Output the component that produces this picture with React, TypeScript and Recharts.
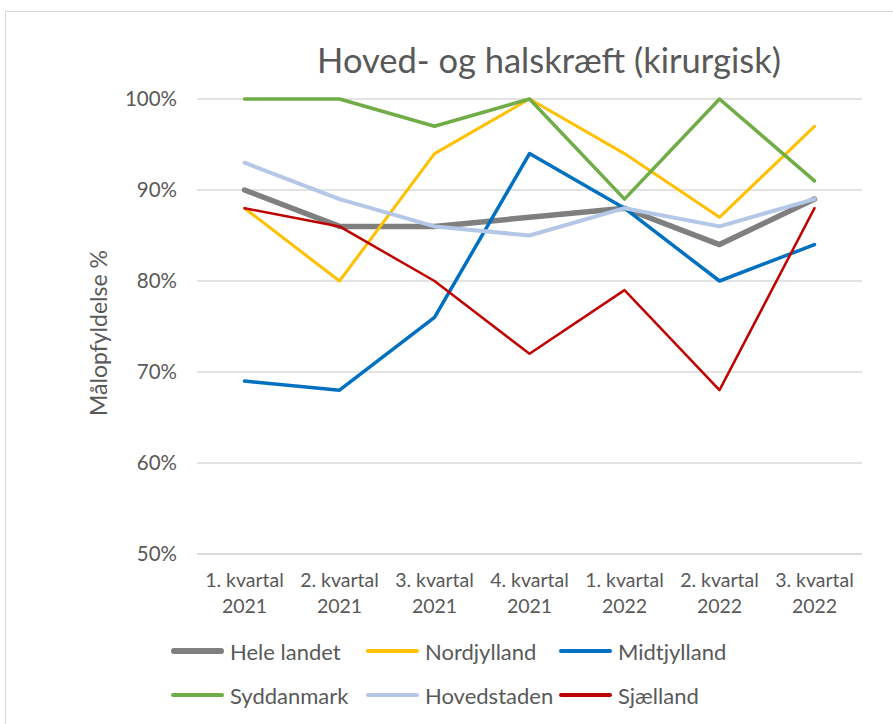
import React from 'react';
import { LineChart, Line, XAxis, YAxis, CartesianGrid, Legend } from 'recharts';

const quarters = ['1. kvartal', '2. kvartal', '3. kvartal', '4. kvartal', '1. kvartal', '2. kvartal', '3. kvartal'];
const years = ['2021', '2021', '2021', '2021', '2022', '2022', '2022'];
const heleLandet = [90, 86, 86, 87, 88, 84, 89];
const nordjylland = [88, 80, 94, 100, 94, 87, 97];
const midtjylland = [69, 68, 76, 94, 88, 80, 84];
const syddanmark = [100, 100, 97, 100, 89, 100, 91];
const hovedstaden = [93, 89, 86, 85, 88, 86, 89];
const sjaelland = [88, 86, 80, 72, 79, 68, 88];
const yTicks = [50, 60, 70, 80, 90, 100];

const seriesDefs = [
  { key: 'hele', name: 'Hele landet', values: heleLandet, color: '#7F7F7F', width: 5.5 },
  { key: 'nord', name: 'Nordjylland', values: nordjylland, color: '#FFC000', width: 3 },
  { key: 'midt', name: 'Midtjylland', values: midtjylland, color: '#0070C0', width: 3.5 },
  { key: 'syd', name: 'Syddanmark', values: syddanmark, color: '#70AD47', width: 3.5 },
  { key: 'hoved', name: 'Hovedstaden', values: hovedstaden, color: '#B4C7E7', width: 4 },
  { key: 'sjael', name: 'Sjælland', values: sjaelland, color: '#C00000', width: 2.5 },
];

const data = quarters.map((q, i) => {
  const row: any = { name: `${q}|${years[i]}` };
  seriesDefs.forEach((s) => {
    row[s.key] = s.values[i];
  });
  return row;
});

const FONT = 'Lato, "Open Sans", sans-serif';
const TXT = '#595959';

const XTick = (props: any) => {
  const { x, payload } = props;
  const [a, b] = String(payload.value).split('|');
  return (
    <text x={x} y={587} textAnchor="middle" fill={TXT} fontSize={19.5} fontFamily={FONT}>
      <tspan x={x} y={587}>{a}</tspan>
      <tspan x={x} y={613}>{b}</tspan>
    </text>
  );
};

const YTick = (props: any) => {
  const { y, payload } = props;
  return (
    <text x={177} y={y + 7} textAnchor="end" fill={TXT} fontSize={20.5} fontFamily={FONT}>
      {`${payload.value}%`}
    </text>
  );
};

const LegendContent = () => {
  const cols = [171, 366, 559];
  return (
    <div style={{ position: 'relative', width: 893, height: 100 }}>
      {seriesDefs.map((s, i) => {
        const col = i % 3;
        const row = Math.floor(i / 3);
        return (
          <div
            key={s.key}
            style={{
              position: 'absolute',
              left: cols[col],
              top: row * 44,
              display: 'flex',
              alignItems: 'center',
              height: 24,
            }}
          >
            <div
              style={{
                width: 53,
                height: s.key === 'hele' ? 5.5 : 4,
                background: s.color,
                borderRadius: 3,
                marginRight: 6,
              }}
            />
            <span style={{ fontFamily: FONT, fontSize: 22, color: TXT, whiteSpace: 'nowrap' }}>{s.name}</span>
          </div>
        );
      })}
    </div>
  );
};

export default function App() {
  return (
    <div style={{ position: 'absolute', left: 0, top: 0, width: 893, height: 724, background: '#fff', overflow: 'hidden' }}>
      <div
        style={{
          position: 'absolute',
          left: 5,
          top: 11,
          width: 900,
          height: 730,
          border: '1.5px solid #D9D9D9',
          boxSizing: 'border-box',
        }}
      />
      <div
        style={{
          position: 'absolute',
          left: 0,
          width: 1098,
          top: 39,
          textAlign: 'center',
          fontFamily: FONT,
          fontSize: 34.5,
          color: TXT,
          whiteSpace: 'nowrap',
        }}
      >
        Hoved- og halskræft (kirurgisk)
      </div>
      <div
        style={{
          position: 'absolute',
          left: 98,
          top: 333,
          transform: 'translate(-50%, -50%) rotate(-90deg)',
          fontFamily: FONT,
          fontSize: 23,
          color: TXT,
          whiteSpace: 'nowrap',
        }}
      >
        Målopfyldelse %
      </div>
      <div style={{ position: 'absolute', left: 0, top: 0 }}>
        <LineChart width={893} height={724} data={data} margin={{ top: 99, right: 31, bottom: 20, left: 117 }}>
          <CartesianGrid vertical={false} stroke="#D9D9D9" strokeWidth={1.5} />
          <XAxis
            dataKey="name"
            height={50}
            tick={<XTick />}
            tickLine={false}
            axisLine={{ stroke: '#D9D9D9', strokeWidth: 1.5 }}
            interval={0}
            padding={{ left: 47.5, right: 47.5 }}
          />
          <YAxis
            width={80}
            domain={[50, 100]}
            ticks={yTicks}
            tick={<YTick />}
            tickLine={false}
            axisLine={false}
            interval={0}
          />
          {seriesDefs.map((s) => (
            <Line
              key={s.key}
              dataKey={s.key}
              name={s.name}
              stroke={s.color}
              strokeWidth={s.width}
              dot={false}
              activeDot={false}
              isAnimationActive={false}
              strokeLinejoin="round"
              strokeLinecap="round"
            />
          ))}
          <Legend
            content={<LegendContent />}
            wrapperStyle={{ position: 'absolute', left: 0, top: 639, width: 893 }}
          />
        </LineChart>
      </div>
    </div>
  );
}
